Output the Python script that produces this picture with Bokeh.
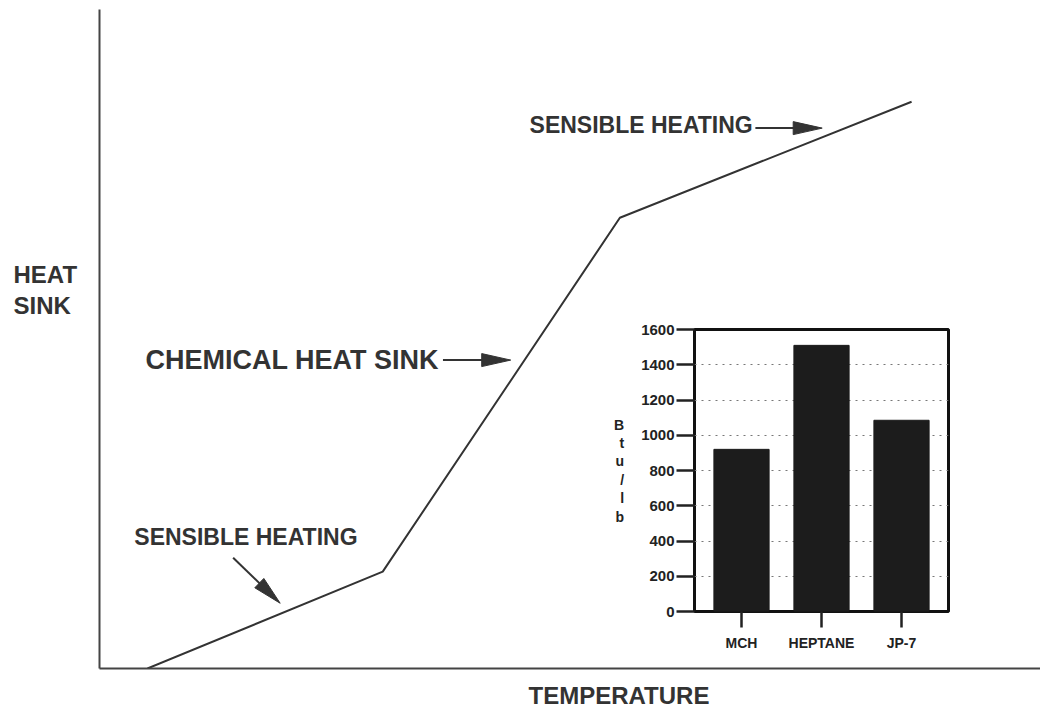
import math
from bokeh.plotting import figure
from bokeh.models import Range1d, FactorRange, FixedTicker, Label
from bokeh.layouts import column
from bokeh.embed import file_html
from bokeh.resources import INLINE

# ---------------- data ----------------
temperature = [5.1, 30.1, 55.3, 86.3]      # arbitrary units
heat_sink = [0.0, 14.7, 68.4, 86.0]        # arbitrary units

fuels = ["MCH", "HEPTANE", "JP-7"]
btu_per_lb = [920, 1510, 1085]
btu_ticks = [0, 200, 400, 600, 800, 1000, 1200, 1400, 1600]

# annotation texts inside the plot (data units of the main chart)
label_texts = ["CHEMICAL HEAT SINK", "SENSIBLE HEATING", "SENSIBLE HEATING"]
label_x = [4.9, 45.7, 3.7]
label_y = [46.8, 82.5, 20.0]
label_size = ["27px", "23px", "23px"]

arrow_tail_x = [36.5, 69.7, 14.2]
arrow_tail_y = [46.8, 82.0, 16.8]
arrow_tip_x = [43.7, 76.8, 19.2]
arrow_tip_y = [46.8, 82.0, 9.9]

y_title = "HEAT\nSINK"
x_title = "TEMPERATURE"

FONT = "Liberation Sans"
INK = "#333333"

# ---------------- main chart ----------------
W, H = 1040, 708
ML, MR, MT, MB = 99, 0, 9, 40
p = figure(width=W, height=H, x_range=Range1d(0, 100), y_range=Range1d(0, 100),
           output_backend="svg", toolbar_location=None,
           min_border_left=ML, min_border_right=MR, min_border_top=MT, min_border_bottom=MB)
p.frame_align = False
p.background_fill_alpha = 0
p.border_fill_alpha = 0
p.outline_line_color = None
p.xgrid.visible = False
p.ygrid.visible = False
for ax in (p.xaxis[0], p.yaxis[0]):
    ax.ticker = FixedTicker(ticks=[])
    ax.major_tick_line_color = None
    ax.minor_tick_line_color = None
    ax.axis_line_color = "#444444"
    ax.axis_line_width = 2

p.line(temperature, heat_sink, line_color="#333333", line_width=2)

sx = (W - ML - MR) / 100.0   # px per x unit (frame width)
sy = (H - MT - MB) / 100.0   # px per y unit (frame height)
HEAD_L, HEAD_W = 29.0, 13.0
heads_x, heads_y, sh_x0, sh_y0, sh_x1, sh_y1 = [], [], [], [], [], []
for tx, ty, hx, hy in zip(arrow_tail_x, arrow_tail_y, arrow_tip_x, arrow_tip_y):
    dx, dy = (hx - tx) * sx, (hy - ty) * sy
    L = math.hypot(dx, dy)
    ux, uy = dx / L, dy / L
    bx, by = -ux * HEAD_L, -uy * HEAD_L
    nx, ny = -uy * HEAD_W / 2, ux * HEAD_W / 2
    heads_x.append([hx, hx + (bx + nx) / sx, hx + (bx - nx) / sx])
    heads_y.append([hy, hy + (by + ny) / sy, hy + (by - ny) / sy])
    sh_x0.append(tx); sh_y0.append(ty)
    sh_x1.append(hx + bx * 0.8 / sx); sh_y1.append(hy + by * 0.8 / sy)

p.segment(sh_x0, sh_y0, sh_x1, sh_y1, line_color="#333333", line_width=2)
p.patches(heads_x, heads_y, fill_color="#333333", line_color="#333333", line_width=1)

for t, x, y, s in zip(label_texts, label_x, label_y, label_size):
    p.add_layout(Label(x=x, y=y, text=t, text_font=FONT, text_font_style="bold",
                       text_font_size=s, text_color=INK, text_baseline="middle",
                       text_align="left"))

# ---------------- transparent overlay holding the axis titles ----------------
r = figure(width=W, height=H, x_range=Range1d(0, 1), y_range=Range1d(0, 1),
           x_axis_location=None, y_axis_location=None, output_backend="svg",
           toolbar_location=None, min_border=0, min_border_left=0, min_border_right=0,
           min_border_top=0, min_border_bottom=0)
r.frame_align = False
r.background_fill_alpha = 0
r.border_fill_alpha = 0
r.outline_line_color = None
r.xgrid.visible = False
r.ygrid.visible = False
r.add_layout(Label(x=13, y=H - 260, x_units="screen", y_units="screen",
                   text=y_title, text_font=FONT, text_font_style="bold",
                   text_font_size="24px", text_color=INK, text_baseline="top",
                   text_align="left", text_line_height=1.16))
r.add_layout(Label(x=528, y=H - 695, x_units="screen", y_units="screen",
                   text=x_title, text_font=FONT, text_font_style="bold",
                   text_font_size="24px", text_color=INK, text_baseline="middle",
                   text_align="left"))
r.margin = (-H, 0, 0, 0)

# ---------------- inset bar chart ----------------
q = figure(width=366, height=340, x_range=FactorRange(*fuels, range_padding=0.0583),
           y_range=Range1d(0, 1600), output_backend="svg", toolbar_location=None,
           min_border_left=100, min_border_right=12, min_border_top=14, min_border_bottom=44)
q.frame_align = False
q.background_fill_alpha = 0
q.border_fill_alpha = 0
q.vbar(x=fuels, top=btu_per_lb, width=0.69, fill_color="#1c1c1c", line_color="#1c1c1c")
q.outline_line_color = "#111111"
q.outline_line_width = 3
q.xgrid.visible = False
q.ygrid.ticker = FixedTicker(ticks=btu_ticks[1:-1])
q.ygrid.grid_line_color = "#777777"
q.ygrid.grid_line_dash = "2 5"
q.ygrid.grid_line_width = 1

ya = q.yaxis[0]
ya.ticker = FixedTicker(ticks=btu_ticks)
ya.major_tick_out = 18
ya.major_tick_in = 0
ya.major_tick_line_width = 2.5
ya.major_tick_line_color = "#222222"
ya.minor_tick_line_color = None
ya.axis_line_color = None
ya.major_label_standoff = 2
ya.major_label_text_font = FONT
ya.major_label_text_font_style = "bold"
ya.major_label_text_font_size = "15px"
ya.major_label_text_color = "#222222"
ya.axis_label = "B\nt\nu\n/\nl\nb"
ya.axis_label_orientation = "horizontal"
ya.axis_label_text_font = FONT
ya.axis_label_text_font_style = "bold"
ya.axis_label_text_font_size = "14px"
ya.axis_label_text_color = "#222222"
ya.axis_label_text_line_height = 1.15
ya.axis_label_standoff = 14

xa = q.xaxis[0]
xa.major_tick_out = 16
xa.major_tick_in = 0
xa.major_tick_line_width = 2.5
xa.major_tick_line_color = "#222222"
xa.axis_line_color = None
xa.major_label_standoff = 7
xa.major_label_text_font = FONT
xa.major_label_text_font_style = "bold"
xa.major_label_text_font_size = "14px"
xa.major_label_text_color = "#222222"

q.margin = (315 - H, 0, 0, 594)

layout = column(p, r, q)
layout.margin = 0
open("out.html", "w").write(file_html(layout, INLINE))
